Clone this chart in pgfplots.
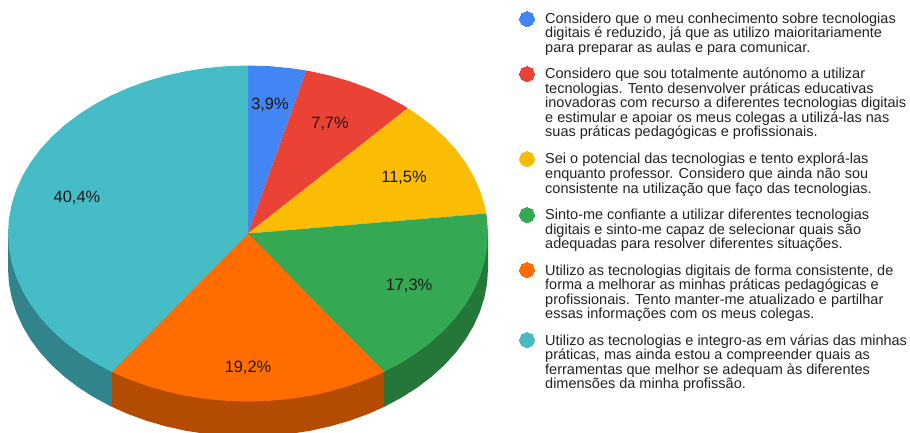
\documentclass[border=0pt]{standalone}
\usepackage{pgfplots}
\pgfplotsset{compat=1.18}
\usepackage{fontspec}
\setmainfont{Liberation Sans}
\definecolor{cblue}{HTML}{4285F4}
\definecolor{cred}{HTML}{EA4335}
\definecolor{cyel}{HTML}{FBBC04}
\definecolor{cgrn}{HTML}{34A853}
\definecolor{corg}{HTML}{FF6D01}
\definecolor{cteal}{HTML}{46BDC6}
\definecolor{dgrn}{HTML}{247639}
\definecolor{dorg}{HTML}{B34C01}
\definecolor{dteal}{HTML}{31848B}
\definecolor{txt}{HTML}{222222}
\newcommand{\leg}[2]{\node[anchor=base west,inner sep=0pt,text=txt,font=\fontsize{14.5}{14.6}\selectfont] at (axis cs:545,#1) {#2};}
\newcommand{\pct}[3]{\node[anchor=center,inner sep=0pt,text=black!90,font=\fontsize{16.4}{18}\selectfont] at (axis cs:#1,#2) {#3};}
\begin{document}
\begin{tikzpicture}
\path[use as bounding box] (0,0) rectangle (910pt,433pt);
\clip (0,0) rectangle (910pt,433pt);
\begin{axis}[
  at={(0,0)}, anchor=south west,
  scale only axis, width=910pt, height=433pt,
  xmin=0, xmax=910, ymin=0, ymax=433, y dir=reverse,
  axis lines=none, ticks=none,
]
% sides
\addplot[draw=none, fill=dgrn] coordinates {(248,233.5) (488,233.5) (488,268.5) (487.09,283.14) (484.35,297.67) (479.82,311.98) (473.53,325.96) (465.51,339.5) (455.85,352.5) (444.6,364.86) (431.85,376.49) (417.71,387.29) (402.27,397.19) (385.66,406.12) (384.14,406.85) (384.14,371.85)} -- cycle;
\addplot[draw=none, fill=dorg] coordinates {(248,233.5) (384.14,371.85) (384.14,406.85) (368,413.99) (349.43,420.76) (330.08,426.37) (310.12,430.78) (289.68,433.95) (268.92,435.86) (248,436.5) (227.08,435.86) (206.32,433.95) (185.88,430.78) (165.92,426.37) (146.57,420.76) (128,413.99) (111.86,406.85) (111.86,371.85)} -- cycle;
\addplot[draw=none, fill=dteal] coordinates {(248,233.5) (111.86,371.85) (111.86,406.85) (110.34,406.12) (93.73,397.19) (78.29,387.29) (64.15,376.49) (51.4,364.86) (40.15,352.5) (30.49,339.5) (22.47,325.96) (16.18,311.98) (11.65,297.67) (8.91,283.14) (8,268.5) (8,233.5)} -- cycle;
% top wedges
\addplot[draw=none, fill=cblue] coordinates {(248,233.5) (248,65.5) (268.92,66.14) (289.68,68.05) (306.23,70.52)} -- cycle;
\addplot[draw=none, fill=cred] coordinates {(248,233.5) (306.23,70.52) (310.12,71.22) (330.08,75.63) (349.43,81.24) (368,88.01) (385.66,95.88) (402.27,104.81) (407.86,108.19)} -- cycle;
\addplot[draw=none, fill=cyel] coordinates {(248,233.5) (407.86,108.19) (417.71,114.71) (431.85,125.51) (444.6,137.14) (455.85,149.5) (465.51,162.5) (473.53,176.04) (479.82,190.02) (484.35,204.33) (486.29,213.49)} -- cycle;
\addplot[draw=none, fill=cgrn] coordinates {(248,233.5) (486.29,213.49) (487.09,218.86) (488,233.5) (487.09,248.14) (484.35,262.67) (479.82,276.98) (473.53,290.96) (465.51,304.5) (455.85,317.5) (444.6,329.86) (431.85,341.49) (417.71,352.29) (402.27,362.19) (385.66,371.12) (384.14,371.85)} -- cycle;
\addplot[draw=none, fill=corg] coordinates {(248,233.5) (384.14,371.85) (368,378.99) (349.43,385.76) (330.08,391.37) (310.12,395.78) (289.68,398.95) (268.92,400.86) (248,401.5) (227.08,400.86) (206.32,398.95) (185.88,395.78) (165.92,391.37) (146.57,385.76) (128,378.99) (111.86,371.85)} -- cycle;
\addplot[draw=none, fill=cteal] coordinates {(248,233.5) (111.86,371.85) (110.34,371.12) (93.73,362.19) (78.29,352.29) (64.15,341.49) (51.4,329.86) (40.15,317.5) (30.49,304.5) (22.47,290.96) (16.18,276.98) (11.65,262.67) (8.91,248.14) (8,233.5) (8.91,218.86) (11.65,204.33) (16.18,190.02) (22.47,176.04) (30.49,162.5) (40.15,149.5) (51.4,137.14) (64.15,125.51) (78.29,114.71) (93.73,104.81) (110.34,95.88) (128,88.01) (146.57,81.24) (165.92,75.63) (185.88,71.22) (206.32,68.05) (227.08,66.14) (248,65.5)} -- cycle;
% legend markers
\addplot[only marks, color=cblue, mark=*, mark size=7.3pt, mark options={draw=cblue, fill=cblue, line width=0pt}] coordinates {(527,19)};
\addplot[only marks, color=cred, mark=*, mark size=7.3pt, mark options={draw=cred, fill=cred, line width=0pt}] coordinates {(527,74)};
\addplot[only marks, color=cyel, mark=*, mark size=7.3pt, mark options={draw=cyel, fill=cyel, line width=0pt}] coordinates {(527,159)};
\addplot[only marks, color=cgrn, mark=*, mark size=7.3pt, mark options={draw=cgrn, fill=cgrn, line width=0pt}] coordinates {(527,215)};
\addplot[only marks, color=corg, mark=*, mark size=7.3pt, mark options={draw=corg, fill=corg, line width=0pt}] coordinates {(527,270)};
\addplot[only marks, color=cteal, mark=*, mark size=7.3pt, mark options={draw=cteal, fill=cteal, line width=0pt}] coordinates {(527,340)};
% percentages
\pct{270}{104.5}{3,9\%}
\pct{330}{124}{7,7\%}
\pct{404}{177.5}{11,5\%}
\pct{409}{285.5}{17,3\%}
\pct{248}{367.5}{19,2\%}
\pct{77}{197.5}{40,4\%}
% legend text
\leg{23.5}{Considero que o meu conhecimento sobre tecnologias}
\leg{38}{digitais é reduzido, já que as utilizo maioritariamente}
\leg{52.5}{para preparar as aulas e para comunicar.}
\leg{79}{Considero que sou totalmente autónomo a utilizar}
\leg{93.5}{tecnologias. Tento desenvolver práticas educativas}
\leg{108}{inovadoras com recurso a diferentes tecnologias digitais}
\leg{122.5}{e estimular e apoiar os meus colegas a utilizá-las nas}
\leg{137}{suas práticas pedagógicas e profissionais.}
\leg{164}{Sei o potencial das tecnologias e tento explorá-las}
\leg{178.5}{enquanto professor. Considero que ainda não sou}
\leg{193}{consistente na utilização que faço das tecnologias.}
\leg{219.5}{Sinto-me confiante a utilizar diferentes tecnologias}
\leg{234}{digitais e sinto-me capaz de selecionar quais são}
\leg{248.5}{adequadas para resolver diferentes situações.}
\leg{275}{Utilizo as tecnologias digitais de forma consistente, de}
\leg{289.5}{forma a melhorar as minhas práticas pedagógicas e}
\leg{304}{profissionais. Tento manter-me atualizado e partilhar}
\leg{318}{essas informações com os meus colegas.}
\leg{345}{Utilizo as tecnologias e integro-as em várias das minhas}
\leg{359.5}{práticas, mas ainda estou a compreender quais as}
\leg{374}{ferramentas que melhor se adequam às diferentes}
\leg{388}{dimensões da minha profissão.}
\end{axis}
\end{tikzpicture}
\end{document}
